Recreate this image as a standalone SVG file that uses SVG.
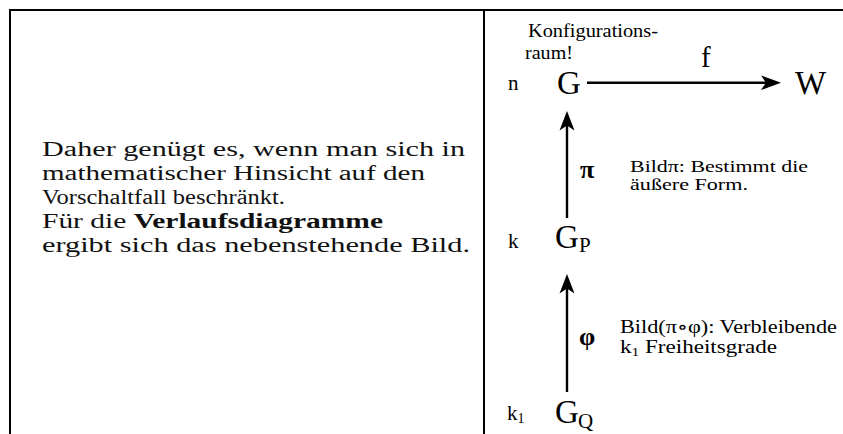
<svg xmlns="http://www.w3.org/2000/svg" width="843" height="434" viewBox="0 0 843 434">
<style>
.frame{stroke:#000;stroke-width:2;fill:none}
.conn{stroke:#000;stroke-width:2.4;fill:none}
.head{fill:#000;stroke:none}
.body{font-family:"Liberation Serif","DejaVu Serif",serif;font-size:20px;fill:#111}
.lab{font-family:"Liberation Serif","DejaVu Serif",serif;font-size:18px;fill:#000}
.note{font-family:"Liberation Serif","DejaVu Serif",serif;font-size:16.5px;fill:#000}
.big{font-family:"Liberation Serif","DejaVu Serif",serif;font-size:33px;fill:#000}
.mid{font-family:"Liberation Serif","DejaVu Serif",serif;font-size:21px;fill:#000}
.fl{font-family:"Liberation Serif","DejaVu Serif",serif;font-size:29px;fill:#000}
.sym{font-family:"Liberation Serif","DejaVu Serif",serif;font-size:26px;font-weight:bold;fill:#000}
</style>
<g id="frame">
<line class="frame" x1="9" y1="10" x2="843" y2="10"/>
<line class="frame" x1="10" y1="9" x2="10" y2="434"/>
<line class="frame" x1="484" y1="10" x2="484" y2="434"/>
</g>
<g id="left-text">
<text class="body" x="42" y="156" textLength="423" lengthAdjust="spacingAndGlyphs">Daher genügt es, wenn man sich in</text>
<text class="body" x="42" y="180" textLength="383" lengthAdjust="spacingAndGlyphs">mathematischer Hinsicht auf den</text>
<text class="body" x="42" y="204" textLength="243" lengthAdjust="spacingAndGlyphs">Vorschaltfall beschränkt.</text>
<text class="body" x="42" y="228" textLength="341" lengthAdjust="spacingAndGlyphs">Für die <tspan font-weight="bold">Verlaufsdiagramme</tspan></text>
<text class="body" x="42" y="252" textLength="428" lengthAdjust="spacingAndGlyphs">ergibt sich das nebenstehende Bild.</text>
</g>
<g id="note-konfig">
<text class="lab" x="528" y="36.5" textLength="130" lengthAdjust="spacingAndGlyphs">Konfigurations-</text>
<text class="lab" x="525" y="58.5" textLength="48" lengthAdjust="spacingAndGlyphs">raum!</text>
</g>
<g id="node-G">
<text class="mid" x="508" y="90">n</text>
<text class="big" x="557" y="94">G</text>
</g>
<g id="node-W">
<text class="big" x="795" y="94">W</text>
</g>
<g id="node-GP">
<text class="mid" x="508" y="248">k</text>
<text class="big" x="555" y="248">G</text>
<text class="mid" x="579" y="252">P</text>
</g>
<g id="node-GQ">
<text class="mid" x="507" y="420">k<tspan font-size="14" dy="3">1</tspan></text>
<text class="big" x="555" y="423">G</text>
<text class="mid" x="578" y="428">Q</text>
</g>
<g id="connectors">
<line class="conn" x1="587" y1="82.7" x2="770" y2="82.7"/>
<path class="head" d="M781,82.7 L761,75.5 L766,82.7 L761,90 Z"/>
<line class="conn" x1="567" y1="218" x2="567" y2="122"/>
<path class="head" d="M567,111 L559.5,130.5 L567,125.5 L574.5,130.5 Z"/>
<line class="conn" x1="567" y1="392" x2="567" y2="285"/>
<path class="head" d="M567,274 L559.5,293.5 L567,288.5 L574.5,293.5 Z"/>
<text class="fl" x="701" y="66.5">f</text>
<text class="sym" x="580" y="178">π</text>
<text class="sym" x="579" y="345">φ</text>
</g>
<g id="notes">
<text class="note" x="630" y="172" textLength="178" lengthAdjust="spacingAndGlyphs">Bildπ: Bestimmt die</text>
<text class="note" x="630" y="190" textLength="118" lengthAdjust="spacingAndGlyphs">äußere Form.</text>
<text class="lab" x="620" y="332.5" textLength="217" lengthAdjust="spacingAndGlyphs">Bild(π∘φ): Verbleibende</text>
<text class="lab" x="620" y="352.5" textLength="157" lengthAdjust="spacingAndGlyphs">k<tspan font-size="12" dy="3">1</tspan><tspan dy="-3"> Freiheitsgrade</tspan></text>
</g>
</svg>
